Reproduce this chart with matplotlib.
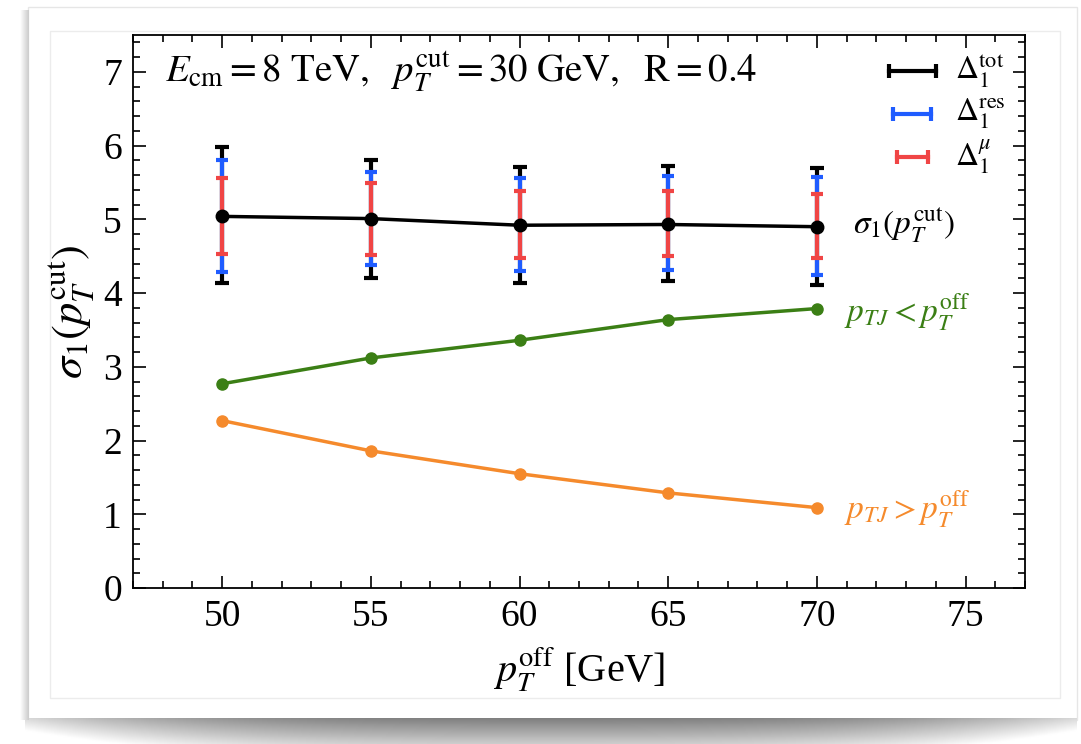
import numpy as np
import matplotlib
matplotlib.use('Agg')
import matplotlib.pyplot as plt
from matplotlib.patches import Rectangle

# data
pt_off = [50, 55, 60, 65, 70]
sigma1 = [5.04, 5.01, 4.92, 4.93, 4.90]
tot_hi = [5.98, 5.80, 5.71, 5.72, 5.70]
tot_lo = [4.13, 4.21, 4.14, 4.17, 4.11]
res_hi = [5.81, 5.64, 5.56, 5.59, 5.58]
res_lo = [4.28, 4.38, 4.30, 4.31, 4.24]
mu_hi = [5.56, 5.49, 5.39, 5.38, 5.34]
mu_lo = [4.53, 4.51, 4.47, 4.50, 4.47]
below = [2.77, 3.12, 3.36, 3.64, 3.79]   # p_TJ < p_T^off
above = [2.27, 1.86, 1.55, 1.29, 1.09]   # p_TJ > p_T^off

plt.rcParams['font.family'] = ['Liberation Serif', 'DejaVu Serif']
plt.rcParams['mathtext.fontset'] = 'stix'

W, H = 1081, 744
fig = plt.figure(figsize=(W / 100, H / 100), dpi=100)
fig.patch.set_facecolor('white')

def px(x0, y0, x1, y1):
    # pixel box (top-left origin) -> figure fraction rect
    return [x0 / W, 1 - y1 / H, (x1 - x0) / W, (y1 - y0) / H]

# shadow under the card
sh = fig.add_axes(px(25, 718, 1077, 744))
gx = np.linspace(-1, 1, 400)
gy = np.linspace(0, 1, 40)
G = 0.5 + 0.35 * (np.abs(gx)[None, :] ** 3) + 0.3 * gy[:, None]
sh.imshow(np.clip(G, 0, 1), cmap='gray', vmin=0, vmax=1, aspect='auto', extent=[0, 1, 1, 0])
sh.axis('off')
# left shadow strip
ls = fig.add_axes(px(20, 10, 28, 720))
ls.imshow(np.linspace(1, 0.8, 20)[None, :], cmap='gray', vmin=0, vmax=1, aspect='auto')
ls.axis('off')
# card border
fig.patches.append(Rectangle((28 / W, 1 - 720 / H), 1049 / W, 713 / H, transform=fig.transFigure,
                             facecolor='white', edgecolor='#e6e6e6', lw=1, zorder=-1))
fig.patches.append(Rectangle((50 / W, 1 - 698 / H), 1010 / W, 667 / H, transform=fig.transFigure,
                             facecolor='none', edgecolor='#ececec', lw=1, zorder=-1))

ax = fig.add_axes(px(133, 35, 1025, 588))
ax.set_xlim(47, 77)
ax.set_ylim(0, 7.5)

x = np.array(pt_off)
s = np.array(sigma1)
ax.errorbar(x, s, yerr=[s - np.array(tot_lo), np.array(tot_hi) - s], fmt='none',
            ecolor='black', elinewidth=3, capsize=5, capthick=3, zorder=2)
ax.errorbar(x, s, yerr=[s - np.array(res_lo), np.array(res_hi) - s], fmt='none',
            ecolor='#1f5cff', elinewidth=3, capsize=4, capthick=3, zorder=3)
ax.errorbar(x, s, yerr=[s - np.array(mu_lo), np.array(mu_hi) - s], fmt='none',
            ecolor='#f04545', elinewidth=3, capsize=4, capthick=3, zorder=4)
ax.plot(x, s, '-o', color='black', lw=2.5, ms=9, zorder=5)
ax.plot(x, below, '-o', color='#3b7f15', lw=2.5, ms=8, zorder=5)
ax.plot(x, above, '-o', color='#f58a2c', lw=2.5, ms=8, zorder=5)

# legend icons
for (yy, x0, x1, c, lab) in [(0.935, 0.847, 0.9, 'black', r'$\Delta_1^{\rm tot}$'),
                             (0.857, 0.852, 0.895, '#1f5cff', r'$\Delta_1^{\rm res}$'),
                             (0.779, 0.856, 0.891, '#f04545', r'$\Delta_1^{\mu}$')]:
    ax.plot([x0, x1], [yy, yy], color=c, lw=3, transform=ax.transAxes, zorder=6)
    ax.plot([x0, x1], [yy, yy], ls='none', marker='|', ms=10, mew=3, color=c,
            transform=ax.transAxes, zorder=6)
    ax.text(0.922, yy, lab, transform=ax.transAxes, fontsize=23, va='center', ha='left')

ax.text(0.036, 0.933, r'$E_{\rm cm} = 8\ {\rm TeV},\ \ p_T^{\rm cut} = 30\ {\rm GeV},\ \ {\rm R} = 0.4$',
        transform=ax.transAxes, fontsize=28, va='center', ha='left')
ax.text(71.2, 4.92, r'$\sigma_1(p_T^{\rm cut})$', fontsize=24, va='center', ha='left')
ax.text(70.9, 3.74, r'$p_{TJ} < p_T^{\rm off}$', fontsize=24, va='center', ha='left', color='#3b7f15')
ax.text(70.9, 1.07, r'$p_{TJ} > p_T^{\rm off}$', fontsize=24, va='center', ha='left', color='#f58a2c')

ax.set_xticks([50, 55, 60, 65, 70, 75])
ax.set_xticks(np.arange(47, 78, 1), minor=True)
ax.set_yticks(range(0, 8))
ax.set_yticks(np.arange(0, 7.6, 0.2), minor=True)
ax.tick_params(which='both', direction='in', top=True, right=True, labelsize=27, width=1.2)
ax.tick_params(which='major', length=9, pad=8)
ax.tick_params(which='minor', length=5)
for sp in ax.spines.values():
    sp.set_linewidth(1.3)

ax.set_xlabel(r'$p_T^{\rm off}$ [GeV]', fontsize=29, labelpad=8)
ax.set_ylabel(r'$\sigma_1(p_T^{\rm cut})$', fontsize=32, labelpad=4)

fig.savefig('out.png', dpi=100)
